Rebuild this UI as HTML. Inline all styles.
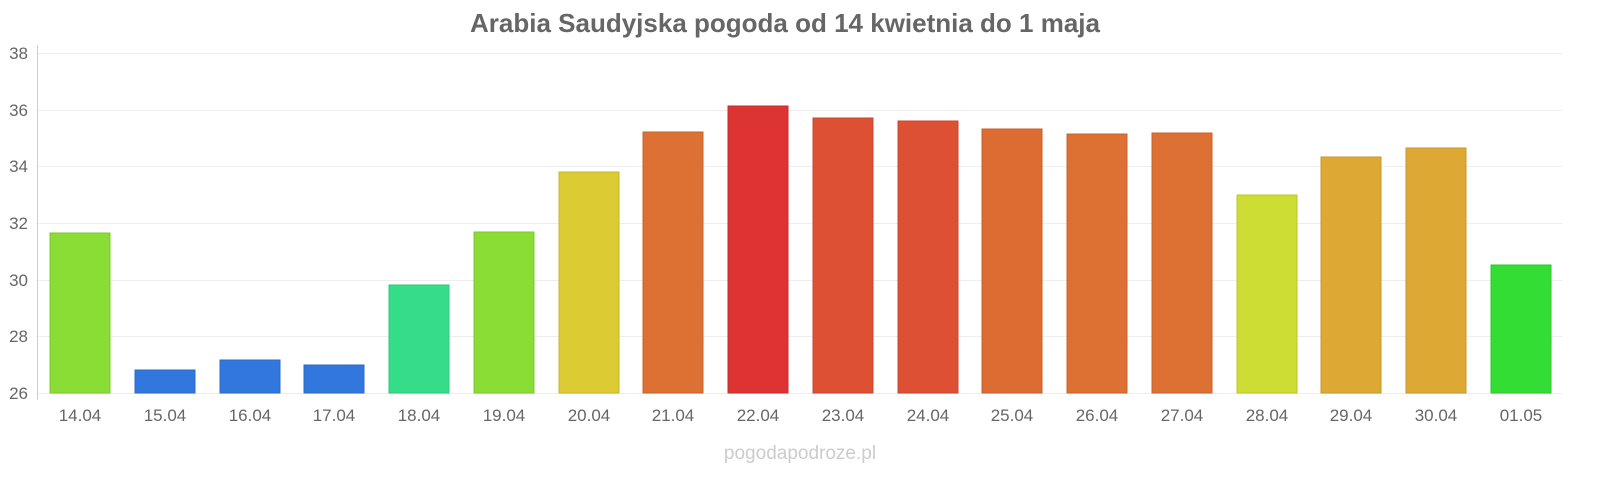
<!DOCTYPE html>
<html><head><meta charset="utf-8"><style>
body{margin:0;background:#fff;width:1600px;height:480px;overflow:hidden;font-family:"Liberation Sans",sans-serif}
</style></head><body>
<svg width="1600" height="480" xmlns="http://www.w3.org/2000/svg" font-family="Liberation Sans, sans-serif">
<text x="785" y="32" text-anchor="middle" font-size="26" font-weight="bold" fill="#666">Arabia Saudyjska pogoda od 14 kwietnia do 1 maja</text>
<g stroke="#eee" stroke-width="1">
<line x1="37" x2="1562" y1="53.5" y2="53.5"/>
<line x1="37" x2="1562" y1="110.5" y2="110.5"/>
<line x1="37" x2="1562" y1="166.5" y2="166.5"/>
<line x1="37" x2="1562" y1="223.5" y2="223.5"/>
<line x1="37" x2="1562" y1="280.5" y2="280.5"/>
<line x1="37" x2="1562" y1="336.5" y2="336.5"/>
<line x1="37" x2="1562" y1="393.5" y2="393.5"/>
</g>
<line x1="37.5" x2="37.5" y1="45" y2="400" stroke="#ccc"/>
<g font-size="17" fill="#666" text-anchor="end">
<text x="28" y="59">38</text><text x="28" y="116">36</text><text x="28" y="172">34</text>
<text x="28" y="229">32</text><text x="28" y="286">30</text><text x="28" y="342">28</text><text x="28" y="399">26</text>
</g>
<g stroke-width="1">
<rect x="50" y="233" width="60" height="160" fill="#8add35" stroke="#7cc72f"/>
<rect x="135" y="370" width="60" height="23" fill="#3177dd" stroke="#2c6bc7"/>
<rect x="220" y="360" width="60" height="33" fill="#3177dd" stroke="#2c6bc7"/>
<rect x="304" y="365" width="60" height="28" fill="#3177dd" stroke="#2c6bc7"/>
<rect x="389" y="285" width="60" height="108" fill="#35dd88" stroke="#2fc77a"/>
<rect x="474" y="232" width="60" height="161" fill="#8add35" stroke="#7cc72f"/>
<rect x="559" y="172" width="60" height="221" fill="#dccb33" stroke="#c6b72e"/>
<rect x="643" y="132" width="60" height="261" fill="#dd7033" stroke="#c7652e"/>
<rect x="728" y="106" width="60" height="287" fill="#dd3333" stroke="#c72e2e"/>
<rect x="813" y="118" width="60" height="275" fill="#dd5033" stroke="#c7482e"/>
<rect x="898" y="121" width="60" height="272" fill="#dd5033" stroke="#c7482e"/>
<rect x="982" y="129" width="60" height="264" fill="#dd6c33" stroke="#c7612e"/>
<rect x="1067" y="134" width="60" height="259" fill="#dd7033" stroke="#c7652e"/>
<rect x="1152" y="133" width="60" height="260" fill="#dd7033" stroke="#c7652e"/>
<rect x="1237" y="195" width="60" height="198" fill="#cedd33" stroke="#b9c72e"/>
<rect x="1321" y="157" width="60" height="236" fill="#dda833" stroke="#c7972e"/>
<rect x="1406" y="148" width="60" height="245" fill="#dda833" stroke="#c7972e"/>
<rect x="1491" y="265" width="60" height="128" fill="#33dd33" stroke="#2ec72e"/>
</g>
<g font-size="17" fill="#666" text-anchor="middle">
<text x="80" y="421">14.04</text><text x="165" y="421">15.04</text><text x="250" y="421">16.04</text>
<text x="334" y="421">17.04</text><text x="419" y="421">18.04</text><text x="504" y="421">19.04</text>
<text x="589" y="421">20.04</text><text x="673" y="421">21.04</text><text x="758" y="421">22.04</text>
<text x="843" y="421">23.04</text><text x="928" y="421">24.04</text><text x="1012" y="421">25.04</text>
<text x="1097" y="421">26.04</text><text x="1182" y="421">27.04</text><text x="1267" y="421">28.04</text>
<text x="1351" y="421">29.04</text><text x="1436" y="421">30.04</text><text x="1521" y="421">01.05</text>
</g>
<text x="800" y="459" text-anchor="middle" font-size="19" fill="#ccc">pogodapodroze.pl</text>
</svg>
</body></html>
